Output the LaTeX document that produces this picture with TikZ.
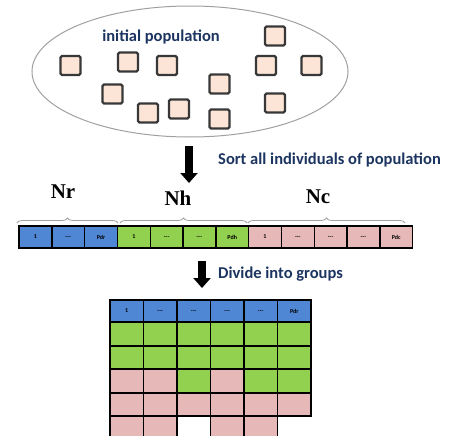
\documentclass[tikz,border=0pt]{standalone}
\usepackage{fontspec}
\setmainfont{Liberation Serif}
\newfontfamily\carl{Carlito}
\usetikzlibrary{arrows.meta,decorations.pathreplacing,shapes.geometric}
\definecolor{cblue}{RGB}{79,135,212}
\definecolor{cgreen}{RGB}{146,208,80}
\definecolor{cpink}{RGB}{230,184,183}
\definecolor{peach}{RGB}{252,229,214}
\definecolor{navy}{RGB}{28,52,96}
\definecolor{bgrey}{RGB}{160,160,160}
\newcommand{\dsh}{-{}-{}-}
\tikzset{
  indiv/.style={draw=black!78,line width=2.4pt,fill=peach,rounded corners=1.5pt,minimum width=20pt,minimum height=19pt,inner sep=0pt},
  cell/.style={draw=black,line width=1.4pt,minimum width=32.8pt,minimum height=22pt,inner sep=0pt,font=\fontsize{6}{6}\selectfont\bfseries\carl},
  gcell/.style={draw=black,line width=1.4pt,minimum width=33.5pt,inner sep=0pt,font=\fontsize{6}{6}\selectfont\bfseries\carl},
  caption/.style={font=\fontsize{16.5}{16.5}\selectfont\bfseries\carl,text=navy,inner sep=0pt},
  grp/.style={font=\fontsize{21}{21}\selectfont\bfseries,inner sep=0pt},
  bigarrow/.style={line width=8pt,-{Triangle[width=17pt,length=10pt]}},
  brc/.style={draw=bgrey,line width=0.8pt,decorate,decoration={brace,amplitude=5pt}}
}
\begin{document}
\begin{tikzpicture}[x=1pt,y=-1pt]
\useasboundingbox (0,0) rectangle (455,436);
% population ellipse
\node[draw=bgrey,line width=1pt,ellipse,minimum width=316pt,minimum height=131pt,inner sep=0pt] (pop) at (190,71.5) {};
\node[caption] (lpop) at (161,37) {initial population};
\foreach \n/\x/\y in {i1/275/36,i2/70.5/65.5,i3/128/62,i4/167/65.5,i5/266/65.5,i6/311.5/65.5,i7/219.5/84,i8/112.5/94,i9/275/103,i10/148/113,i11/179/109,i12/219.5/119}
  \node[indiv] (\n) at (\x,\y) {};
% arrow 1
\coordinate (a1s) at (189,146);
\coordinate (a1e) at (189,183);
\draw[bigarrow] (a1s) -- (a1e);
\node[caption,anchor=west] (lsort) at (218,160) {Sort all individuals of population};
% group labels
\node[grp] (nr) at (63,192) {Nr};
\node[grp] (nh) at (178,198) {Nh};
\node[grp] (nc) at (318,197) {Nc};
% braces
\coordinate (b1a) at (17,223); \coordinate (b1b) at (118,223);
\coordinate (b2a) at (120,223); \coordinate (b2b) at (247,223);
\coordinate (b3a) at (248,223); \coordinate (b3b) at (405,223);
\draw[brc] (b1a) -- (b1b);
\draw[brc] (b2a) -- (b2b);
\draw[brc] (b3a) -- (b3b);
% sorted row
\foreach \i/\c/\t in {0/cblue/1,1/cblue/\dsh,2/cblue/Pdr,3/cgreen/1,4/cgreen/\dsh,5/cgreen/\dsh,6/cgreen/Pdh,7/cpink/1,8/cpink/\dsh,9/cpink/\dsh,10/cpink/\dsh,11/cpink/Pdc}
  \node[cell,fill=\c] (s\i) at ({19+16.4+32.8*\i},237) {\t};
% arrow 2
\coordinate (a2s) at (202,261);
\coordinate (a2e) at (202,288);
\draw[bigarrow] (a2s) -- (a2e);
\node[caption,anchor=west] (ldiv) at (218,274) {Divide into groups};
% groups grid
\foreach \j/\t in {0/1,1/\dsh,2/\dsh,3/\dsh,4/\dsh,5/Pdr}
  \node[gcell,fill=cblue,minimum height=22pt] (g0\j) at ({110+16.75+33.5*\j},311) {\t};
\foreach \r/\yc/\h/\cols in {1/334/24/{cgreen,cgreen,cgreen,cgreen,cgreen,cgreen},
                             2/357.5/23/{cgreen,cgreen,cgreen,cgreen,cgreen,cgreen},
                             3/381/24/{cpink,cpink,cgreen,cpink,cgreen,cgreen},
                             4/404.5/23/{cpink,cpink,cpink,cpink,cpink,cpink}}{
  \foreach \c [count=\j from 0] in \cols
    \node[gcell,fill=\c,minimum height=\h pt] (g\r\j) at ({110+16.75+33.5*\j},\yc) {};
}
\foreach \j in {0,1,3,4}
  \node[gcell,fill=cpink,minimum height=23pt] (g5\j) at ({110+16.75+33.5*\j},427.5) {};
\end{tikzpicture}
\end{document}
